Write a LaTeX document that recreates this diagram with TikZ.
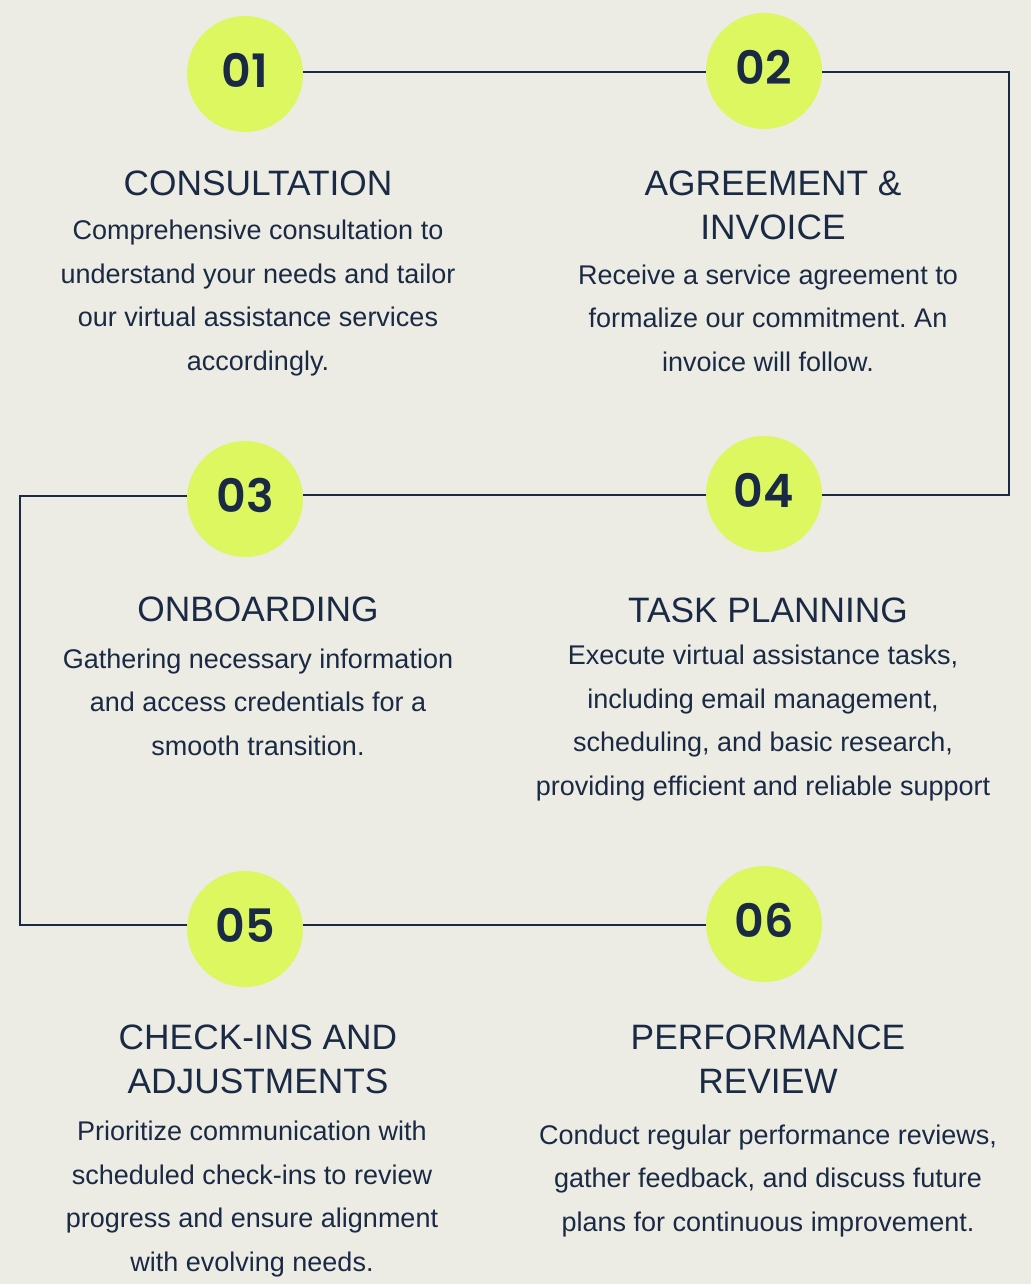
\documentclass[tikz,border=0pt]{standalone}
\usepackage{fontspec}
\setmainfont{Liberation Sans}
\newfontfamily\numfont{Poppins SemiBold}
\definecolor{bg}{HTML}{ECEBE4}
\definecolor{lime}{HTML}{DCF760}
\definecolor{navy}{HTML}{1A2A44}
\frenchspacing
\begin{document}
\begin{tikzpicture}[x=1pt,y=-1pt,
  stepcircle/.style={circle, fill=lime, minimum size=116pt, inner sep=0pt,
    text height=33pt, text depth=6pt,
    font=\numfont\fontsize{46}{46}\selectfont, text=navy},
  titletext/.style={align=center, text=navy, inner sep=0pt, anchor=base,
    font=\fontsize{35.3}{43.5}\selectfont},
  bodytext/.style={align=center, text=navy, inner sep=0pt, anchor=base,
    font=\fontsize{27}{43.5}\selectfont},
  link/.style={draw=navy, line width=1.8pt}]
\fill[bg] (0,0) rectangle (1031,1284);
\useasboundingbox (0,0) rectangle (1031,1284);

% corner points of the connector
\coordinate (r1) at (1009,72);
\coordinate (r2) at (1009,495);
\coordinate (l1) at (20,496);
\coordinate (l2) at (20,925);

\node[stepcircle] (c1) at (245,74) {01};
\node[stepcircle] (c2) at (764,71) {02};
\node[stepcircle] (c3) at (245,499) {03};
\node[stepcircle] (c4) at (764,494) {04};
\node[stepcircle] (c5) at (245,929) {05};
\node[stepcircle] (c6) at (764,924) {06};

\draw[link] (c1.east |- r1) -- (c2.west |- r1);
\draw[link] (c2.east |- r1) -- (r1) -- (r2) -- (c4.east |- r2);
\draw[link] (c4.west |- r2) -- (c3.east |- r2);
\draw[link] (c3.west |- l1) -- (l1) -- (l2) -- (c5.west |- l2);
\draw[link] (c5.east |- l2) -- (c6.west |- l2);

% anchor=base refers to the baseline of the last line
\node[titletext] (t1) at (258,196) {CONSULTATION};
\node[bodytext] (b1) at (258,370) {Comprehensive consultation to\\understand your needs and tailor\\our virtual assistance services\\accordingly.};

\node[titletext] (t2) at (773,239) {AGREEMENT \&\\INVOICE};
\node[bodytext] (b2) at (768,371) {Receive a service agreement to\\formalize our commitment. An\\invoice will follow.};

\node[titletext] (t3) at (258,621) {ONBOARDING};
\node[bodytext] (b3) at (258,755) {Gathering necessary information\\and access credentials for a\\smooth transition.};

\node[titletext] (t4) at (768,622) {TASK PLANNING};
\node[bodytext] (b4) at (763,795) {Execute virtual assistance tasks,\\including email management,\\scheduling, and basic research,\\providing efficient and reliable support};

\node[titletext] (t5) at (258,1093) {CHECK-INS AND\\ADJUSTMENTS};
\node[bodytext] (b5) at (252,1271) {Prioritize communication with\\scheduled check-ins to review\\progress and ensure alignment\\with evolving needs.};

\node[titletext] (t6) at (768,1093) {PERFORMANCE\\REVIEW};
\node[bodytext] (b6) at (768,1231) {Conduct regular performance reviews,\\gather feedback, and discuss future\\plans for continuous improvement.};
\end{tikzpicture}
\end{document}
